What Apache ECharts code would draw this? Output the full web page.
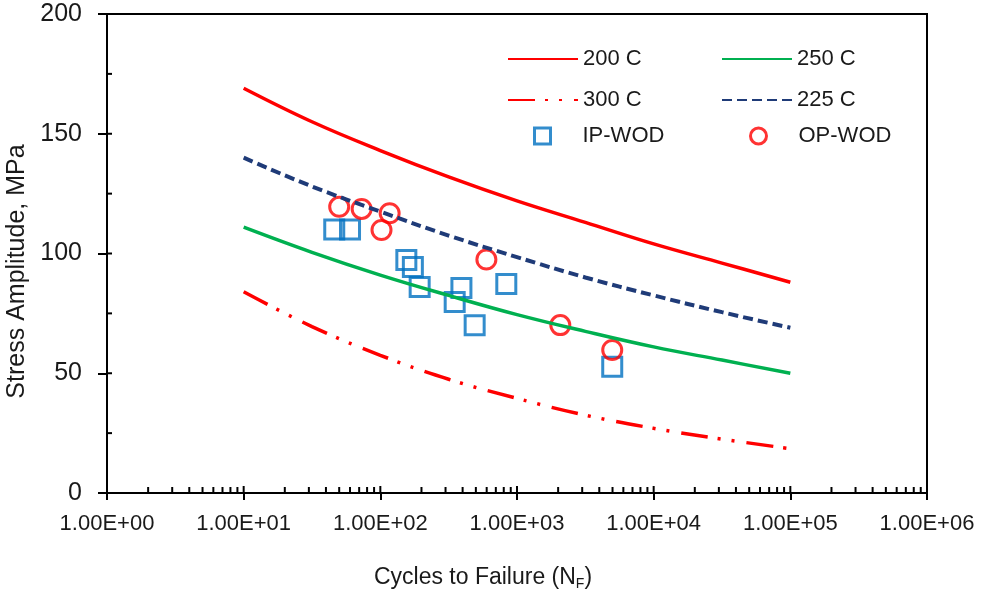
<!DOCTYPE html>
<html>
<head>
<meta charset="utf-8">
<script src="https://cdn.jsdelivr.net/npm/echarts@6/dist/echarts.min.js"></script>
<style>
  html, body { margin: 0; padding: 0; background: #fff; }
  #main { width: 982px; height: 595px; }
</style>
</head>
<body>
<div id="main"></div>
<script>
// cycles at which the curves were read
var curveN = [10, 31.6, 100, 316, 1000, 3162, 10000, 31623, 100000];
var s200 = [169, 155, 143, 132, 122, 113, 104, 96, 88];
var s250 = [111, 100.5, 91, 82.5, 74.5, 67.5, 61, 55.5, 50];
var s300 = [84, 69.5, 57.5, 47.5, 39.5, 32.5, 27, 22.5, 18.5];
var s225 = [140, 128, 117.5, 107.5, 98.5, 90, 82.5, 75.5, 69];

// test points
var ipN = [46, 60, 155, 173, 194, 392, 350, 490, 835, 4975];
var ipS = [110, 110, 97.3, 94.4, 86, 85.6, 79.7, 70, 87.3, 52.7];
var opN = [50, 73, 117, 102, 597, 2074, 4975];
var opS = [119.5, 118.6, 116.8, 109.8, 97.5, 70.1, 59.7];

var yTicks = [0, 25, 50, 75, 100, 125, 150, 175, 200];

function pairs(xs, ys) {
    return xs.map(function (x, i) { return [x, ys[i]]; });
}

// inside tick marks for the log axis (1..9 in every decade)
var xTicks = [];
for (var d = 1; d < 1000000; d *= 10) {
    for (var m = 1; m < 10; m++) xTicks.push([d * m, 0, m === 1 ? 1 : 0]);
}
xTicks.push([1000000, 0, 1]);

var font = "'Liberation Sans', Arial, sans-serif";
var txt = '#1a1a1a';

function lineLegend(name, left, top) {
    return {
        data: [name], left: left, top: top, padding: 0,
        itemWidth: 70, itemHeight: 14,
        itemStyle: { opacity: 0 },
        textStyle: { fontSize: 22, color: txt, fontFamily: font }
    };
}

var option = {
    animation: false,
    grid: {
        show: true, borderColor: '#000', borderWidth: 2,
        left: 107, right: 55, top: 14, bottom: 102,
        outerBoundsMode: 'none'
    },
    legend: [
        lineLegend('200 C', 507, 48),
        lineLegend('250 C', 721, 48),
        lineLegend('300 C', 507, 89),
        lineLegend('225 C', 721, 89),
        {
            data: [{ name: 'IP-WOD', itemStyle: { color: 'rgba(0,0,0,0)', borderColor: '#0070c0', borderWidth: 3 } }],
            left: 533, top: 125, padding: 0, itemWidth: 16, itemHeight: 16,
            textStyle: { fontSize: 22, color: txt, fontFamily: font, padding: [0, 0, 0, 27] }
        },
        {
            data: [{ name: 'OP-WOD', itemStyle: { color: 'rgba(0,0,0,0)', borderColor: '#ff0000', borderWidth: 3 } }],
            left: 749, top: 125, padding: 0, itemWidth: 16, itemHeight: 16,
            textStyle: { fontSize: 22, color: txt, fontFamily: font, padding: [0, 0, 0, 27] }
        }
    ],
    xAxis: {
        type: 'log', logBase: 10, min: 1, max: 1000000,
        name: '{a|Cycles to Failure (N}{s|F}{a|)}',
        nameLocation: 'middle', nameGap: 72,
        nameTextStyle: {
            padding: [0, 68, 0, 0],
            rich: {
                a: { fontSize: 23, color: txt, fontFamily: font },
                s: { fontSize: 14, color: txt, fontFamily: font, verticalAlign: 'bottom', padding: [12, 0, 0, 0] }
            }
        },
        axisLine: { onZero: false, lineStyle: { color: '#000', width: 2 } },
        axisTick: { length: 7, lineStyle: { color: '#000', width: 2 } },
        axisLabel: {
            margin: 20, fontSize: 22, color: txt, fontFamily: font,
            formatter: function (v) {
                var e = Math.round(Math.log10(v));
                return '1.00E+' + (e < 10 ? '0' : '') + e;
            }
        },
        splitLine: { show: false }
    },
    yAxis: {
        type: 'value', min: 0, max: 200, interval: 50,
        name: 'Stress Amplitude, MPa',
        nameLocation: 'middle', nameGap: 75,
        nameTextStyle: { fontSize: 25, color: txt, fontFamily: font, padding: [0, 36, 0, 0] },
        axisLine: { lineStyle: { color: '#000', width: 2 } },
        axisTick: { length: 9, lineStyle: { color: '#000', width: 2 } },
        axisLabel: { margin: 25, fontSize: 25, color: txt, fontFamily: font },
        splitLine: { show: false }
    },
    series: [
        {
            name: 'IP-WOD', type: 'scatter', symbol: 'rect', symbolSize: 19,
            itemStyle: { color: 'rgba(0,0,0,0)', borderColor: '#0070c0', borderWidth: 3 },
            data: pairs(ipN, ipS)
        },
        {
            name: 'OP-WOD', type: 'scatter', symbol: 'circle', symbolSize: 19,
            itemStyle: { color: 'rgba(0,0,0,0)', borderColor: '#ff0000', borderWidth: 3 },
            data: pairs(opN, opS)
        },
        {
            name: '200 C', type: 'line', smooth: 0.4, symbol: 'none',
            lineStyle: { color: '#ff0000', width: 3.5 }, itemStyle: { color: '#ff0000' },
            data: pairs(curveN, s200)
        },
        {
            name: '250 C', type: 'line', smooth: 0.4, symbol: 'none',
            lineStyle: { color: '#00b050', width: 3.5 }, itemStyle: { color: '#00b050' },
            data: pairs(curveN, s250)
        },
        {
            name: '300 C', type: 'line', smooth: 0.4, symbol: 'none',
            lineStyle: { color: '#ff0000', width: 3.5, type: [27, 10, 3, 11, 3, 12] }, itemStyle: { color: '#ff0000' },
            data: pairs(curveN, s300)
        },
        {
            name: '225 C', type: 'line', smooth: 0.4, symbol: 'none',
            lineStyle: { color: '#1f3b78', width: 4, type: [10, 5] }, itemStyle: { color: '#1f3b78' },
            data: pairs(curveN, s225)
        },
        {
            name: 'xticks', type: 'custom', silent: true,
            data: xTicks,
            renderItem: function (params, api) {
                var p = api.coord([api.value(0), 0]);
                var len = api.value(2) ? 7 : 6;
                return {
                    type: 'line',
                    shape: { x1: p[0], y1: p[1], x2: p[0], y2: p[1] - len },
                    style: { stroke: '#000', lineWidth: 2 }
                };
            }
        },
        {
            name: 'yticks', type: 'custom', silent: true,
            data: yTicks.map(function (v) { return [1, v]; }),
            renderItem: function (params, api) {
                var p = api.coord([1, api.value(1)]);
                return {
                    type: 'line',
                    shape: { x1: p[0], y1: p[1], x2: p[0] + 5, y2: p[1] },
                    style: { stroke: '#000', lineWidth: 2 }
                };
            }
        }
    ]
};

var myChart = echarts.init(document.getElementById('main'));
myChart.setOption(option);
</script>
</body>
</html>
